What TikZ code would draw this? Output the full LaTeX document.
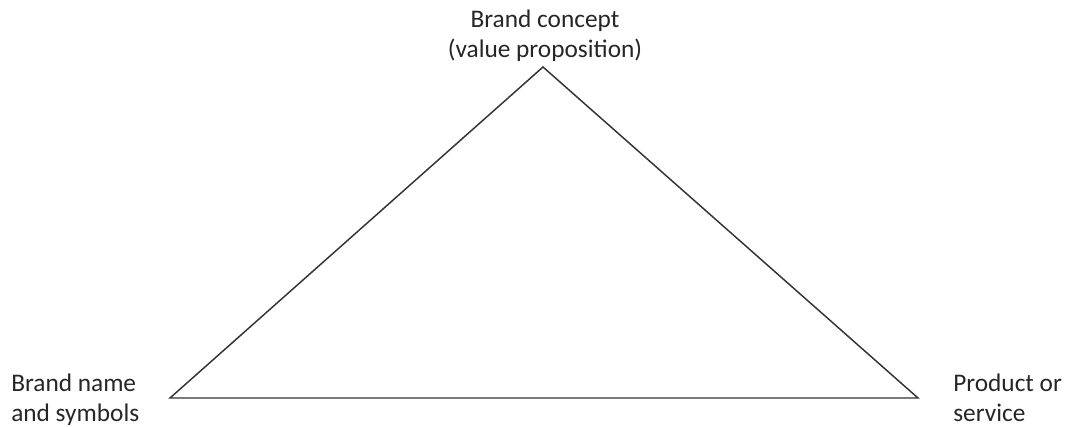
\documentclass[tikz,border=0pt]{standalone}
\usepackage{fontspec}
\setmainfont{Carlito}
\usetikzlibrary{positioning}

\begin{document}
\begin{tikzpicture}[x=0.75pt,y=-0.75pt,
  every node/.style={font=\fontsize{19}{22}\selectfont,text=black!85,inner sep=0pt},
  edge line/.style={draw=black!80,line width=1.1pt,line join=miter}]
\useasboundingbox (0,0) rectangle (1071,426);
\coordinate (concept) at (543,67);
\coordinate (name) at (170,398);
\coordinate (product) at (918,398);
\draw[edge line] (concept) -- (product) -- (name) -- cycle;
\node (concept label) [align=center,anchor=base] at (545,57) {Brand concept\\(value proposition)};
\node (name label) [align=left,anchor=base west] at (11,421) {Brand name\\and symbols};
\node (product label) [align=left,anchor=base west] at (953,421) {Product or\\service};
\end{tikzpicture}
\end{document}
